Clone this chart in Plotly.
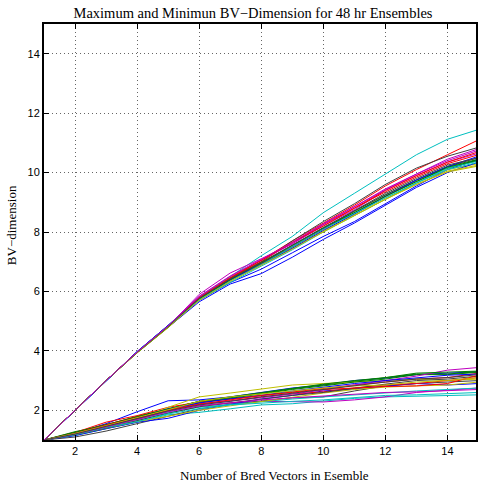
import plotly.graph_objects as go

bred_vectors = list(range(1, 16))

max_dims = [
    [1, 2, 3, 3.98, 4.85, 5.70, 6.30, 6.75, 7.30, 7.85, 8.35, 8.95, 9.55, 10.10, 10.45],
    [1, 2, 3, 3.95, 4.80, 5.72, 6.38, 6.95, 7.55, 8.15, 8.70, 9.25, 9.75, 10.20, 10.45],
    [1, 2, 3, 3.96, 4.84, 5.80, 6.45, 7.05, 7.70, 8.30, 8.90, 9.55, 10.10, 10.60, 11.10],
    [1, 2, 3, 3.97, 4.86, 5.80, 6.50, 7.20, 7.85, 8.65, 9.30, 9.95, 10.60, 11.12, 11.45],
    [1, 2, 3, 3.95, 4.82, 5.90, 6.62, 7.10, 7.60, 8.20, 8.75, 9.40, 9.90, 10.35, 10.65],
    [1, 2, 3, 3.93, 4.78, 5.70, 6.35, 6.90, 7.45, 8.05, 8.60, 9.15, 9.65, 10.10, 10.30],
    [1, 2, 3, 3.96, 4.83, 5.78, 6.45, 7.00, 7.70, 8.35, 8.95, 9.60, 10.15, 10.55, 10.85],
    [1, 2, 3, 3.94, 4.80, 5.65, 6.25, 6.60, 7.15, 7.75, 8.30, 8.90, 9.50, 10.00, 10.35],
    [1, 2, 3, 3.95, 4.82, 5.75, 6.40, 6.95, 7.50, 8.10, 8.65, 9.20, 9.70, 10.15, 10.40],
    [1, 2, 3, 3.96, 4.85, 5.78, 6.42, 7.00, 7.65, 8.25, 8.80, 9.40, 9.90, 10.35, 10.70],
    [1, 2, 3, 3.94, 4.80, 5.70, 6.30, 6.85, 7.40, 8.00, 8.55, 9.10, 9.65, 10.15, 10.40],
    [1, 2, 3, 3.96, 4.84, 5.82, 6.50, 7.05, 7.60, 8.25, 8.85, 9.45, 9.95, 10.40, 10.75],
    [1, 2, 3, 3.93, 4.79, 5.72, 6.36, 6.90, 7.45, 8.00, 8.55, 9.10, 9.60, 10.05, 10.25],
    [1, 2, 3, 3.95, 4.81, 5.74, 6.38, 6.93, 7.50, 8.10, 8.70, 9.25, 9.75, 10.20, 10.50],
    [1, 2, 3, 3.97, 4.86, 5.76, 6.40, 6.90, 7.45, 8.05, 8.60, 9.20, 9.75, 10.20, 10.55],
    [1, 2, 3, 3.94, 4.80, 5.74, 6.40, 6.98, 7.55, 8.12, 8.65, 9.20, 9.70, 10.18, 10.42],
    [1, 2, 3, 3.95, 4.83, 5.78, 6.46, 7.05, 7.65, 8.20, 8.80, 9.35, 9.85, 10.30, 10.60],
    [1, 2, 3, 3.95, 4.82, 5.72, 6.35, 6.90, 7.50, 8.10, 8.62, 9.15, 9.65, 10.10, 10.35],
    [1, 2, 3, 3.96, 4.84, 5.84, 6.52, 7.08, 7.65, 8.28, 8.85, 9.42, 9.95, 10.45, 10.80],
    [1, 2, 3, 3.94, 4.80, 5.70, 6.34, 6.88, 7.42, 8.02, 8.55, 9.10, 9.60, 10.02, 10.22],
    [1, 2, 3, 3.95, 4.82, 5.76, 6.42, 6.97, 7.55, 8.15, 8.72, 9.30, 9.80, 10.25, 10.50],
]

min_dims = [
    [1, 1.22, 1.55, 1.95, 2.32, 2.35, 2.45, 2.60, 2.75, 2.85, 3.00, 3.08, 3.20, 3.25, 3.30],
    [1, 1.28, 1.50, 1.80, 2.05, 2.30, 2.42, 2.58, 2.72, 2.85, 2.98, 3.10, 3.22, 3.22, 3.30],
    [1, 1.25, 1.60, 1.82, 2.10, 2.28, 2.38, 2.50, 2.62, 2.75, 2.85, 2.95, 3.05, 3.10, 3.25],
    [1, 1.15, 1.38, 1.60, 1.85, 1.93, 2.05, 2.18, 2.22, 2.30, 2.40, 2.45, 2.48, 2.50, 2.52],
    [1, 1.18, 1.42, 1.68, 1.95, 2.15, 2.25, 2.30, 2.30, 2.28, 2.35, 2.45, 2.60, 2.68, 2.75],
    [1, 1.20, 1.45, 1.70, 2.10, 2.45, 2.58, 2.72, 2.85, 2.90, 2.95, 3.00, 3.05, 3.00, 3.05],
    [1, 1.10, 1.30, 1.55, 1.82, 2.05, 2.20, 2.32, 2.42, 2.45, 2.65, 2.82, 2.90, 2.95, 3.00],
    [1, 1.15, 1.38, 1.60, 1.73, 2.00, 2.20, 2.38, 2.50, 2.65, 2.72, 2.82, 2.90, 2.85, 2.90],
    [1, 1.25, 1.48, 1.72, 1.98, 2.25, 2.40, 2.55, 2.70, 2.82, 2.95, 3.05, 3.20, 3.20, 3.28],
    [1, 1.22, 1.52, 1.78, 2.02, 2.22, 2.32, 2.45, 2.55, 2.62, 2.75, 2.85, 2.90, 3.00, 3.10],
    [1, 1.20, 1.42, 1.65, 1.92, 2.10, 2.20, 2.30, 2.38, 2.45, 2.52, 2.60, 2.65, 2.70, 2.75],
    [1, 1.20, 1.45, 1.72, 2.00, 2.20, 2.30, 2.42, 2.55, 2.68, 2.85, 3.00, 3.15, 3.35, 3.44],
    [1, 1.18, 1.40, 1.62, 1.80, 2.00, 2.15, 2.30, 2.45, 2.58, 2.70, 2.78, 2.82, 2.85, 2.95],
    [1, 1.18, 1.40, 1.65, 1.90, 2.12, 2.25, 2.38, 2.50, 2.60, 2.75, 2.88, 3.00, 3.05, 3.15],
    [1, 1.22, 1.48, 1.75, 2.05, 2.25, 2.38, 2.50, 2.65, 2.78, 2.90, 3.00, 3.10, 3.18, 3.22],
    [1, 1.26, 1.52, 1.78, 2.05, 2.30, 2.45, 2.60, 2.75, 2.88, 3.00, 3.10, 3.25, 3.28, 3.32],
    [1, 1.22, 1.50, 1.75, 2.00, 2.20, 2.35, 2.50, 2.60, 2.70, 2.75, 2.80, 2.82, 2.90, 3.18],
    [1, 1.18, 1.42, 1.62, 1.88, 2.05, 2.18, 2.25, 2.30, 2.35, 2.42, 2.50, 2.52, 2.55, 2.60],
    [1, 1.20, 1.44, 1.70, 1.95, 2.15, 2.25, 2.35, 2.42, 2.48, 2.52, 2.60, 2.62, 2.65, 2.70],
    [1, 1.22, 1.48, 1.74, 2.02, 2.30, 2.45, 2.55, 2.65, 2.75, 2.82, 2.85, 2.95, 3.00, 3.10],
    [1, 1.20, 1.46, 1.72, 1.98, 2.18, 2.30, 2.45, 2.58, 2.70, 2.82, 2.95, 3.05, 3.10, 3.20],
]

tick_vals = [2, 4, 6, 8, 10, 12, 14]
line_colors = ["#0000FF", "#008000", "#FF0000", "#00BFBF", "#BF00BF", "#BFBF00", "#404040"]

fig = go.Figure()
# minimum bundle first, maximum bundle on top; a magenta max series is drawn last
min_order = list(range(len(min_dims)))
max_order = [i for i in range(len(max_dims)) if i != 18] + [18]
for group, order in ((min_dims, min_order), (max_dims, max_order)):
    for i in order:
        fig.add_trace(go.Scatter(
            x=bred_vectors, y=group[i], mode="lines",
            line=dict(color=line_colors[i % 7], width=1),
            showlegend=False, hoverinfo="skip",
        ))

axis_common = dict(
    showline=True, linecolor="black", linewidth=2, mirror="ticks",
    ticks="inside", ticklen=5, tickwidth=1, tickcolor="black",
    showgrid=True, gridcolor="#666666", gridwidth=1, griddash="1px,3px",
    zeroline=False, tickvals=tick_vals,
    tickfont=dict(family="Liberation Sans, Arial", size=11, color="black"),
)

fig.update_layout(
    width=478, height=485,
    margin=dict(l=44, r=0, t=24, b=45),
    paper_bgcolor="white", plot_bgcolor="white",
    xaxis=dict(range=[1, 14.92], **axis_common),
    yaxis=dict(range=[1, 15], **axis_common),
    title=dict(
        text="Maximum and Minimun BV\u2212Dimension for 48 hr Ensembles",
        font=dict(family="Liberation Serif, Times New Roman", size=14.5, color="black"),
        xref="container", x=253 / 478, xanchor="center",
        yref="container", y=1 - 13 / 485, yanchor="middle",
    ),
    annotations=[
        dict(text="Number of Bred Vectors in Esemble", xref="paper", yref="paper",
             x=(276 - 44) / 434, y=-36 / 416, xanchor="center", yanchor="middle",
             showarrow=False,
             font=dict(family="Liberation Serif, Times New Roman", size=13, color="black")),
        dict(text="BV\u2212dimension", xref="paper", yref="paper",
             x=-32 / 434, y=(440 - 225) / 416, xanchor="center", yanchor="middle",
             textangle=-90, showarrow=False,
             font=dict(family="Liberation Serif, Times New Roman", size=13, color="black")),
    ],
)

fig.write_html(
    "out.html",
    config={"displayModeBar": False, "staticPlot": True},
    post_script="document.body.style.margin='0px';document.body.style.overflow='hidden';",
)
